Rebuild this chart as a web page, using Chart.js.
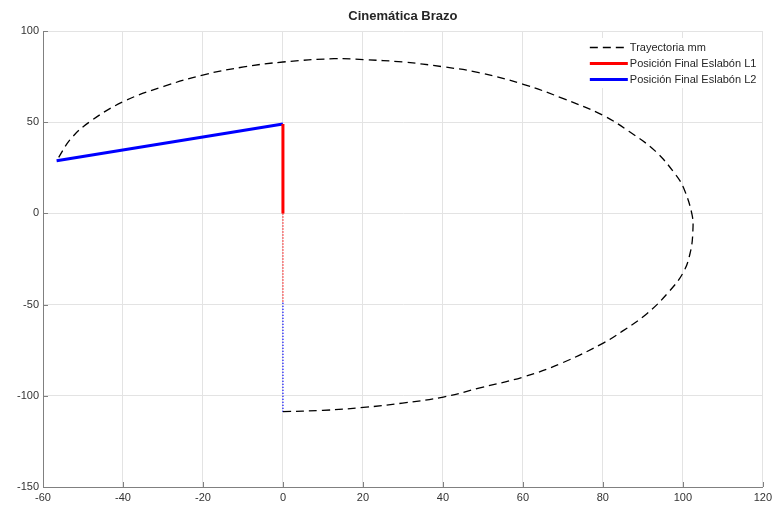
<!DOCTYPE html>
<html>
<head>
<meta charset="utf-8">
<script src="https://cdn.jsdelivr.net/npm/chart.js@4.4.1/dist/chart.umd.min.js"></script>
<style>
  html, body { margin: 0; padding: 0; background: #fff; }
</style>
</head>
<body>
<canvas id="brazoChart" width="776" height="506"></canvas>
<script>
// Trayectoria del extremo del brazo (mm)
const trayX = [0, 9.9, 20.1, 29.9, 40.1, 49, 60.1, 69.8, 80.1, 84.8, 91, 96.5, 100.2, 101.9, 102.5, 102.3,
               100.2, 98.2, 93.2, 86.5, 80.1, 69.8, 60.1, 49, 40, 30, 20.1, 12.8, 0, -9.8, -19.8, -29.8,
               -39.8, -48.2, -53, -56.6];
const trayY = [-108.7, -108, -106.4, -104, -100.7, -95.8, -89.7, -82, -71.1, -64.7, -55, -43, -32, -21, -10, -0.7,
               13.9, 21.2, 34, 45, 53.7, 63.2, 70.8, 77.2, 80.4, 83, 84.3, 84.8, 83, 80.3, 76, 69.6,
               61.4, 50.4, 41, 28.9];

// Eslabones en la posición final
const l1X = [0, 0];
const l1Y = [0, 49];
const l2X = [0, -56.6];
const l2Y = [49, 28.9];

// Eslabones en la posición inicial (punteado)
const l1InicioX = [0, 0];
const l1InicioY = [0, -49];
const l2InicioX = [0, 0];
const l2InicioY = [-49, -108.7];

const xTicks = [-60, -40, -20, 0, 20, 40, 60, 80, 100, 120];
const yTicks = [-150, -100, -50, 0, 50, 100];

const toPoints = (xs, ys) => xs.map((x, i) => ({ x: x, y: ys[i] }));

Chart.defaults.font.family = '"Liberation Sans", Arial, Helvetica, sans-serif';
Chart.defaults.color = '#333333';

// Ticks hacia dentro y leyenda dentro del área, estilo MATLAB
const estiloMatlab = {
    id: 'estiloMatlab',
    afterDraw(chart) {
        const { ctx, chartArea, scales } = chart;
        ctx.save();
        ctx.strokeStyle = '#808080';
        ctx.lineWidth = 1;
        ctx.beginPath();
        scales.x.ticks.forEach(t => {
            const px = Math.round(scales.x.getPixelForValue(t.value)) + 0.5;
            ctx.moveTo(px, chartArea.bottom);
            ctx.lineTo(px, chartArea.bottom - 5);
        });
        scales.y.ticks.forEach(t => {
            const py = Math.round(scales.y.getPixelForValue(t.value)) + 0.5;
            ctx.moveTo(chartArea.left, py);
            ctx.lineTo(chartArea.left + 5, py);
        });
        ctx.stroke();

        // Leyenda
        const right = chartArea.right;
        const top = chartArea.top + 7;
        ctx.fillStyle = '#ffffff';
        ctx.fillRect(right - 178, top, 176, 50);
        ctx.font = '11px "Liberation Sans", Arial, sans-serif';
        ctx.textBaseline = 'middle';
        let fila = 0;
        chart.data.datasets.forEach(ds => {
            if (!ds.enLeyenda) return;
            const y = top + 9.5 + fila * 16;
            ctx.strokeStyle = ds.borderColor;
            ctx.lineWidth = ds.borderWidth;
            ctx.setLineDash(ds.borderDash || []);
            ctx.beginPath();
            ctx.moveTo(right - 173, y);
            ctx.lineTo(right - 135, y);
            ctx.stroke();
            ctx.setLineDash([]);
            ctx.fillStyle = '#262626';
            ctx.fillText(ds.label, right - 133, y);
            fila++;
        });
        ctx.restore();
    }
};

new Chart(document.getElementById('brazoChart'), {
    type: 'scatter',
    data: {
        datasets: [
            {
                label: 'Trayectoria mm',
                data: toPoints(trayX, trayY),
                showLine: true,
                borderColor: '#000000',
                borderWidth: 1.3,
                borderDash: [8, 5],
                tension: 0.4,
                pointRadius: 0,
                enLeyenda: true
            },
            {
                label: 'Posición Final Eslabón L1',
                data: toPoints(l1X, l1Y),
                showLine: true,
                borderColor: '#ff0000',
                borderWidth: 3,
                pointRadius: 0,
                enLeyenda: true
            },
            {
                label: 'Posición Final Eslabón L2',
                data: toPoints(l2X, l2Y),
                showLine: true,
                borderColor: '#0000ff',
                borderWidth: 3,
                pointRadius: 0,
                enLeyenda: true
            },
            {
                label: 'L1 inicial',
                data: toPoints(l1InicioX, l1InicioY),
                showLine: true,
                borderColor: '#ff0000',
                borderWidth: 1.5,
                borderDash: [1, 2],
                pointRadius: 0
            },
            {
                label: 'L2 inicial',
                data: toPoints(l2InicioX, l2InicioY),
                showLine: true,
                borderColor: '#0000ff',
                borderWidth: 1.5,
                borderDash: [1, 2],
                pointRadius: 0
            }
        ]
    },
    options: {
        responsive: false,
        animation: false,
        layout: {
            padding: { left: 0, right: 13, top: 0, bottom: 0 }
        },
        plugins: {
            legend: { display: false },
            tooltip: { enabled: false },
            title: {
                display: true,
                text: 'Cinemática Brazo',
                fullSize: false,
                color: '#262626',
                font: { size: 13, weight: 'bold' },
                padding: { top: 9, bottom: 6.4 }
            }
        },
        scales: {
            x: {
                type: 'linear',
                min: -60,
                max: 120,
                afterBuildTicks: (scale) => { scale.ticks = xTicks.map(v => ({ value: v })); },
                afterFit: (scale) => { scale.height = 19; },
                ticks: {
                    padding: 4,
                    maxRotation: 0,
                    font: { size: 11 }
                },
                grid: {
                    color: '#e3e3e3',
                    drawTicks: false
                },
                border: { color: '#808080', width: 1 }
            },
            y: {
                type: 'linear',
                min: -150,
                max: 100,
                afterBuildTicks: (scale) => { scale.ticks = yTicks.map(v => ({ value: v })); },
                afterFit: (scale) => { scale.width = 43; },
                ticks: {
                    padding: 4,
                    font: { size: 11 }
                },
                grid: {
                    color: '#e3e3e3',
                    drawTicks: false
                },
                border: { color: '#808080', width: 1 }
            }
        }
    },
    plugins: [estiloMatlab]
});
</script>
</body>
</html>
